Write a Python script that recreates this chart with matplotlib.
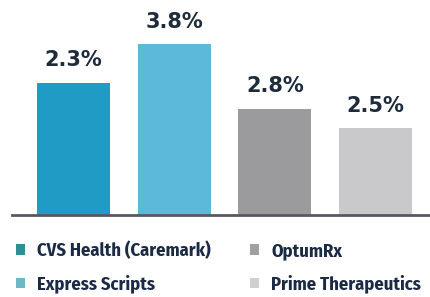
import matplotlib
matplotlib.use("Agg")
import matplotlib.pyplot as plt
from matplotlib.patches import Patch

# Data
categories = ["CVS Health (Caremark)", "Express Scripts", "OptumRx", "Prime Therapeutics"]
label_values = [2.3, 3.8, 2.8, 2.5]           # printed percentages
bar_heights = [132, 171, 106, 87]              # drawn bar heights as they appear (graphic units)
bar_colors = ["#1f9bc6", "#5cbad8", "#9b9b9d", "#c9c9cb"]
legend_colors = ["#2b9097", "#6db8c4", "#a0a0a2", "#cfcfd1"]

W, H, DPI = 430, 297, 100
fig = plt.figure(figsize=(W / DPI, H / DPI), dpi=DPI)
fig.patch.set_facecolor("white")

# axes: x from 12px to 430px, bottom at 215px from top
ax = fig.add_axes([12 / W, (H - 215) / H, (W - 12) / W, 215 / H])
x = list(range(len(categories)))
ax.bar(x, bar_heights, width=0.725, color=bar_colors, zorder=2)
ax.set_xlim(-0.61, 3.54)
ax.set_ylim(0, 215)
for s in ["top", "right", "left"]:
    ax.spines[s].set_visible(False)
ax.spines["bottom"].set_color("#555a5e")
ax.spines["bottom"].set_linewidth(2)
ax.set_xticks([])
ax.set_yticks([])

for xi, h, v in zip(x, bar_heights, label_values):
    ax.annotate(f"{v:.1f}%", (xi, h), xytext=(0, 9), textcoords="offset points",
                ha="center", va="bottom", fontsize=15, fontweight="bold",
                color="#1e2b3a", family="DejaVu Sans")

handles = [Patch(facecolor=c, edgecolor="none") for c in legend_colors]
leg = fig.legend(handles, categories, ncol=2, loc="upper left",
                 bbox_to_anchor=(16 / W, 1 - 241 / H), frameon=False, borderpad=0,
                 borderaxespad=0,
                 prop={"family": "Fira Sans Condensed", "weight": "bold", "size": 13.3},
                 handlelength=0.5, handleheight=0.5, handletextpad=0.65,
                 columnspacing=2.1, labelspacing=0.82)
for t in leg.get_texts():
    t.set_color("#1c2b45")

fig.savefig("out.png", dpi=DPI)
